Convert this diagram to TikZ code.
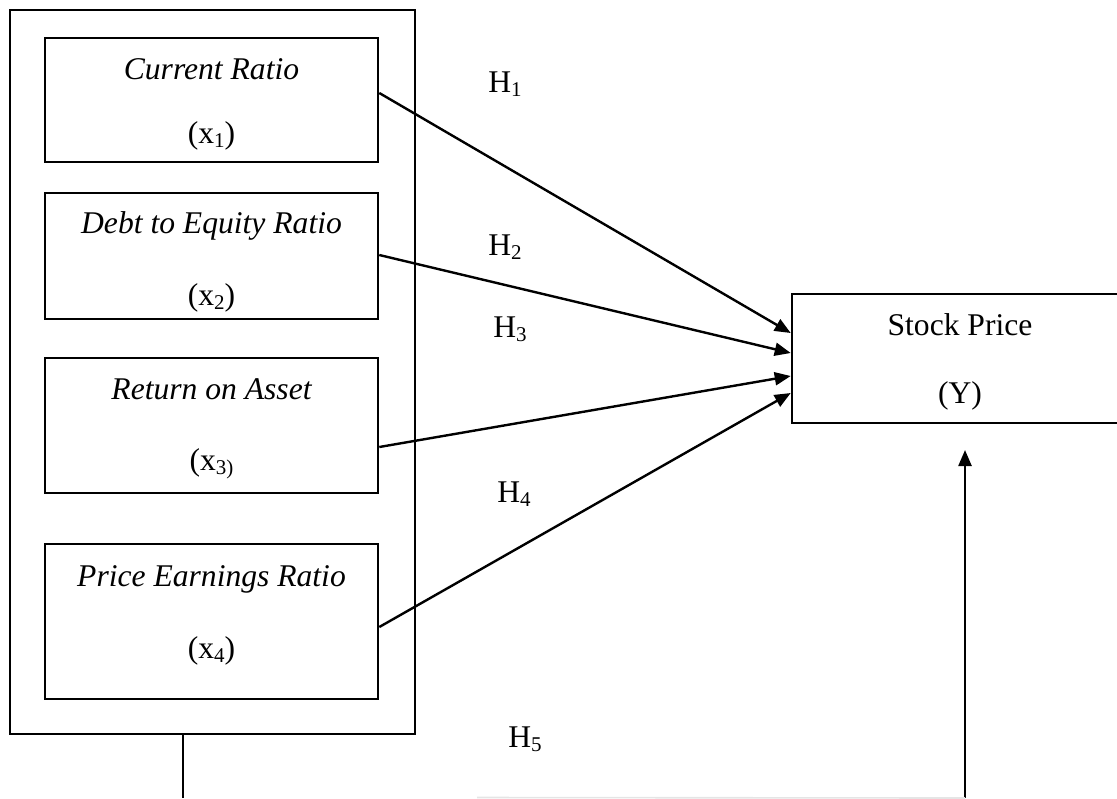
\documentclass[tikz,border=0pt]{standalone}
\usepackage{fontspec}
\setmainfont{Liberation Serif}
\usetikzlibrary{arrows.meta}
\newcommand\subs[1]{\raisebox{-0.13em}{\fontsize{10.5}{12}\selectfont #1}}
\begin{document}
\begin{tikzpicture}[x=0.5pt,y=-0.5pt,
  font=\fontsize{15.8}{19}\selectfont,
  box/.style={draw, line width=1.3pt, inner sep=0pt},
  lbl/.style={anchor=base, inner sep=0pt},
  conn/.style={line width=1.2pt, -{Triangle[length=8pt,width=6.5pt]}},
  plainline/.style={line width=1.2pt}]
\useasboundingbox (0,0) rectangle (1117,798);
\clip (0,0) rectangle (1117,798);
% outer group box
\node[box, minimum width=202.5pt, minimum height=362pt] (outer) at (212.5,372) {};
% inner boxes
\node[box, minimum width=166.5pt, minimum height=62pt]   (b1) at (211.5,100) {};
\node[box, minimum width=166.5pt, minimum height=63pt]   (b2) at (211.5,256) {};
\node[box, minimum width=166.5pt, minimum height=67.5pt] (b3) at (211.5,425.5) {};
\node[box, minimum width=166.5pt, minimum height=77.5pt] (b4) at (211.5,621.5) {};
% stock price box
\node[box, minimum width=169pt, minimum height=64.5pt] (y) at (961,358.5) {};
% texts
\node[lbl] (t1a) at (211.5,79)  {\itshape Current Ratio};
\node[lbl] (t1b) at (211.5,143) {(x\subs{1})};
\node[lbl] (t2a) at (211.5,233) {\itshape Debt to Equity Ratio};
\node[lbl] (t2b) at (211.5,305) {(x\subs{2})};
\node[lbl] (t3a) at (211.5,399) {\itshape Return on Asset};
\node[lbl] (t3b) at (211.5,470) {(x\subs{3)}};
\node[lbl] (t4a) at (211.5,586) {\itshape Price Earnings Ratio};
\node[lbl] (t4b) at (211.5,658) {(x\subs{4})};
\node[lbl] (ya) at (960,335) {Stock Price};
\node[lbl] (yb) at (960,403) {(Y)};
% hypothesis labels
\node[lbl, anchor=base west] (h1) at (488,92)  {H\subs{1}};
\node[lbl, anchor=base west] (h2) at (488,255) {H\subs{2}};
\node[lbl, anchor=base west] (h3) at (493,337) {H\subs{3}};
\node[lbl, anchor=base west] (h4) at (497,502) {H\subs{4}};
\node[lbl, anchor=base west] (h5) at (508,747) {H\subs{5}};
% connector end points
\coordinate (s1) at (b1.east |- 0,93);
\coordinate (s2) at (b2.east |- 0,255);
\coordinate (s3) at (b3.east |- 0,447);
\coordinate (s4) at (b4.east |- 0,627);
\coordinate (e1) at (y.west |- 0,333);
\coordinate (e2) at (y.west |- 0,353);
\coordinate (e3) at (y.west |- 0,376);
\coordinate (e4) at (y.west |- 0,393);
\draw[conn] (s1) -- (e1);
\draw[conn] (s2) -- (e2);
\draw[conn] (s3) -- (e3);
\draw[conn] (s4) -- (e4);
% H5 path
\coordinate (d1) at (183,798);
\coordinate (d2) at (965,798);
\coordinate (up) at (965,450);
\draw[plainline] (outer.south -| d1) -- (d1);
\draw[conn] (d2) -- (up);
\draw[gray!20, line width=0.8pt] (477,797.5) -- (d2);
\end{tikzpicture}
\end{document}
